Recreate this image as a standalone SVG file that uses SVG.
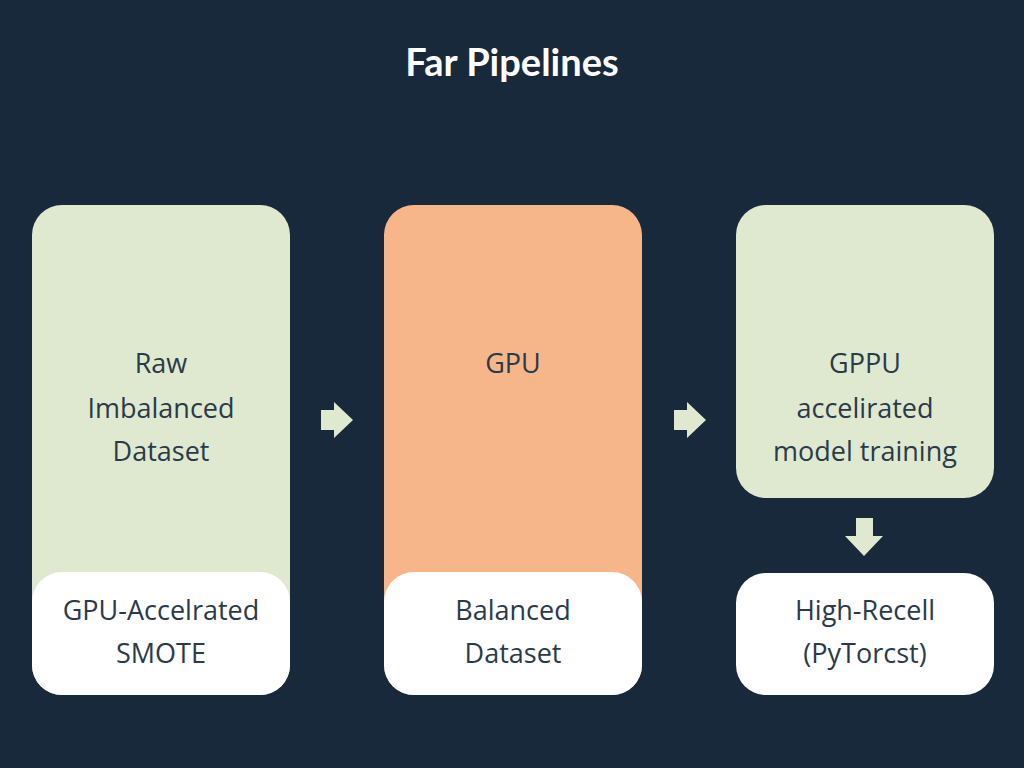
<svg xmlns="http://www.w3.org/2000/svg" width="1024" height="768" viewBox="0 0 1024 768">
<style>
.t{font-family:"Open Sans","Liberation Sans",sans-serif;font-size:27px;fill:#2b3a4a;text-anchor:middle}
.g{fill:#dfe9cf}.o{fill:#f6b68a}.w{fill:#ffffff}.a{fill:#dfe9cf}
</style>
<rect width="1024" height="768" fill="#19293c"/>
<text x="512" y="76" font-family="Lato,'Liberation Sans',sans-serif" font-size="38" font-weight="bold" fill="#ffffff" text-anchor="middle">Far Pipelines</text>
<g id="n1"><rect class="g" x="32" y="205" width="258" height="490" rx="30"/><rect class="w" x="32" y="572" width="258" height="123" rx="30"/>
<text class="t" x="161" y="373">Raw</text><text class="t" x="161" y="418">Imbalanced</text><text class="t" x="161" y="461">Dataset</text>
<text class="t" x="161" y="620">GPU-Accelrated</text><text class="t" x="161" y="663">SMOTE</text></g>
<g id="n2"><rect class="o" x="384" y="205" width="258" height="490" rx="30"/><rect class="w" x="384" y="572" width="258" height="123" rx="30"/>
<text class="t" x="513" y="373">GPU</text>
<text class="t" x="513" y="620">Balanced</text><text class="t" x="513" y="663">Dataset</text></g>
<g id="n3"><rect class="g" x="736" y="205" width="258" height="293" rx="30"/>
<text class="t" x="865" y="373">GPPU</text><text class="t" x="865" y="418">accelirated</text><text class="t" x="865" y="461">model training</text></g>
<g id="n4"><rect class="w" x="736" y="573" width="258" height="122" rx="30"/>
<text class="t" x="865" y="620">High-Recell</text><text class="t" x="865" y="663">(PyTorcst)</text></g>
<g id="connectors">
<polygon class="a" points="321,410 334,410 334,402 353,420 334,438 334,430 321,430"/>
<polygon class="a" points="674,410 687,410 687,402 706,420 687,438 687,430 674,430"/>
<polygon class="a" points="856,518 873,518 873,536 883,536 864,556 845,536 856,536"/>
</g>
</svg>
